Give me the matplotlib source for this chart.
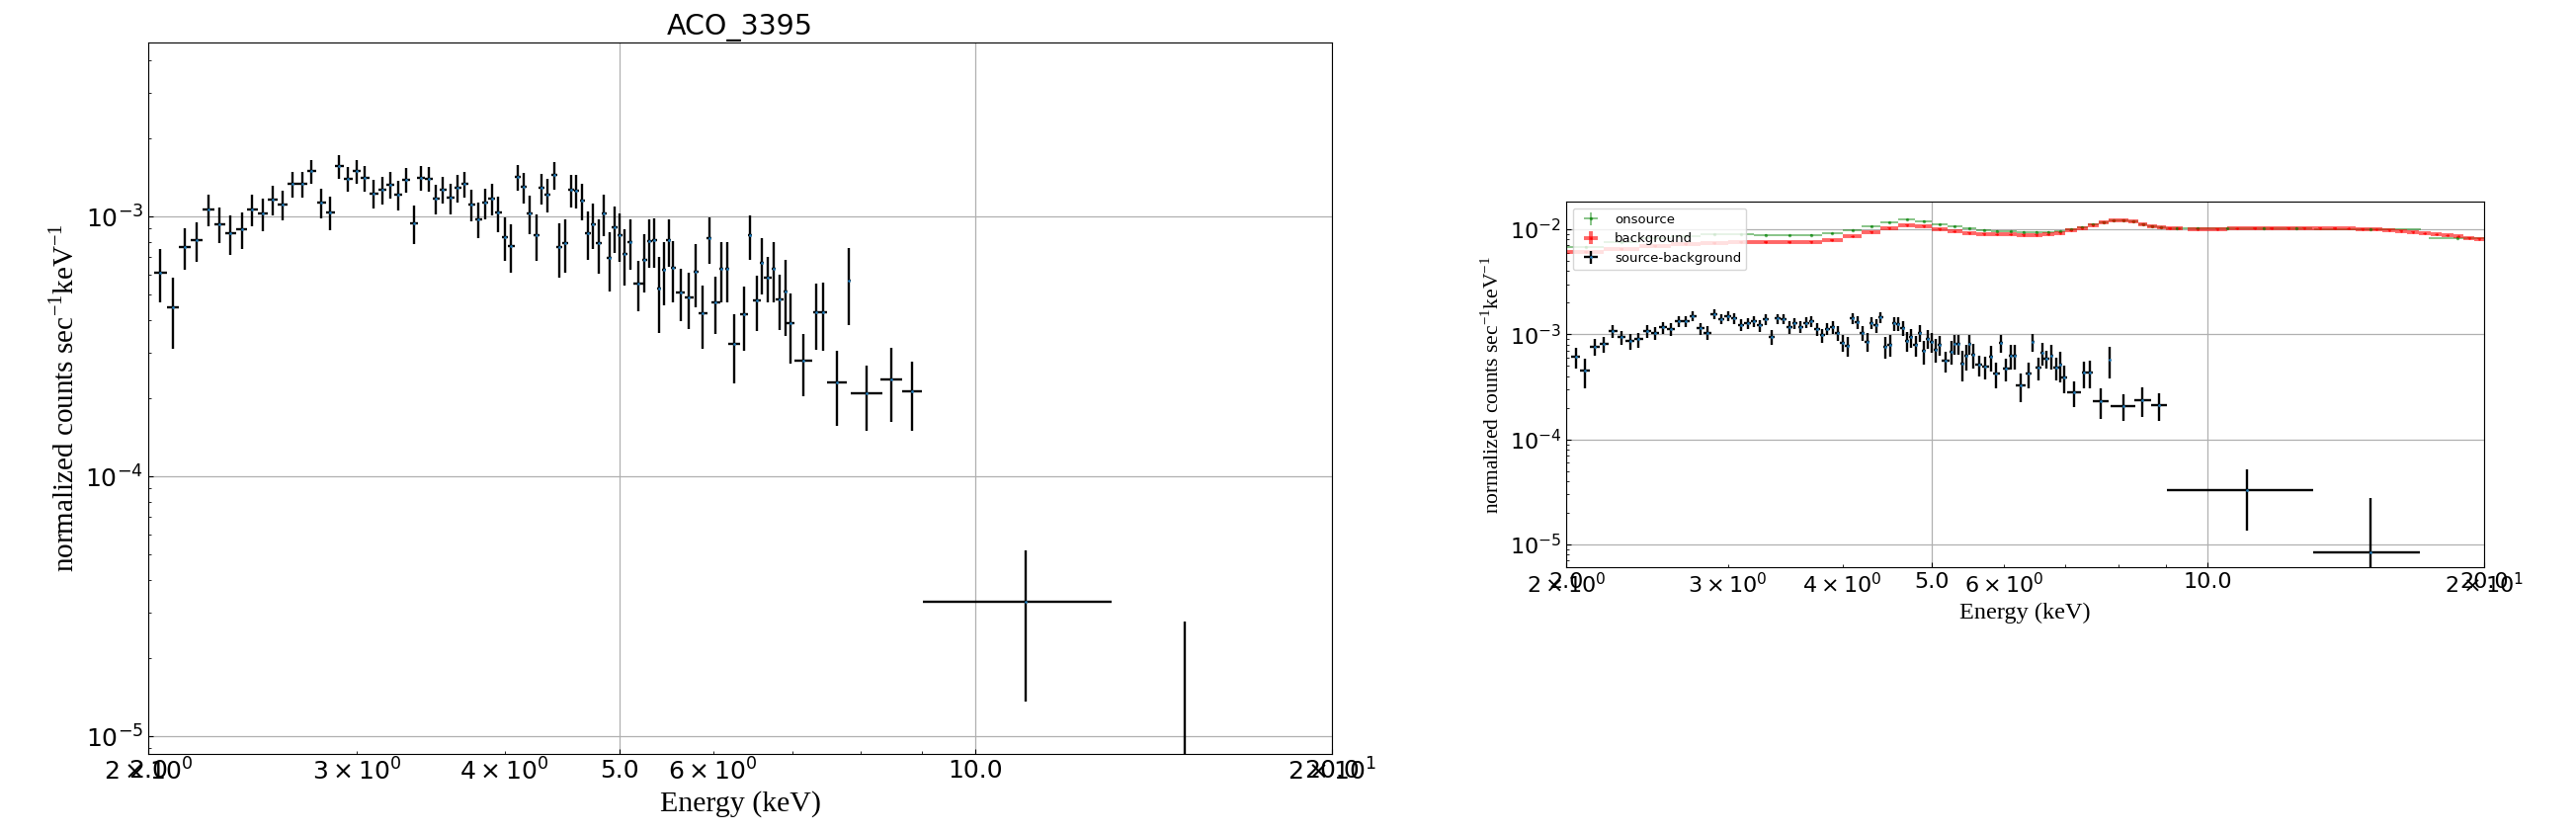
import matplotlib
matplotlib.use('Agg')
import matplotlib.pyplot as plt
from matplotlib.ticker import FixedLocator, FixedFormatter
import numpy as np

plt.rcParams['font.family'] = ['DejaVu Sans']

# ---------------- data: source - background spectrum ----------------
energy = [2.048, 2.098, 2.149, 2.199, 2.249, 2.298, 2.347, 2.399, 2.449, 2.500,
          2.550, 2.599, 2.650, 2.699, 2.748, 2.802, 2.851, 2.900, 2.951, 3.001,
          3.049, 3.102, 3.152, 3.201, 3.251, 3.301, 3.352, 3.400, 3.451, 3.502,
          3.549, 3.602, 3.651, 3.702, 3.753, 3.803, 3.852, 3.902, 3.952, 4.001,
          4.052, 4.102, 4.152, 4.203, 4.254, 4.301, 4.351, 4.404, 4.452, 4.504,
          4.553, 4.600, 4.653, 4.704, 4.752, 4.804, 4.854, 4.904, 4.954, 5.006,
          5.054, 5.106, 5.185, 5.252, 5.303, 5.354, 5.402, 5.454, 5.503, 5.553,
          5.631, 5.726, 5.804, 5.882, 5.954, 6.031, 6.101, 6.164, 6.255, 6.377,
          6.451, 6.534, 6.601, 6.678, 6.755, 6.833, 6.913, 6.979, 7.156, 7.337,
          7.436, 7.639, 7.817, 8.092, 8.492, 8.841, 11.03, 15.03]
energy_halfwidth = [0.025] * 62 + [0.05] + [0.025] * 7 + [
    0.05, 0.05, 0.025, 0.05, 0.025, 0.05, 0.025, 0.025, 0.075, 0.05,
    0.025, 0.05, 0.025, 0.05, 0.025, 0.05, 0.025, 0.05, 0.125, 0.05,
    0.05, 0.15, 0.025, 0.25, 0.175, 0.175, 2.0, 2.0]
# normalized counts (units of 1e-3 counts/s/keV)
net_counts = [0.609, 0.447, 0.765, 0.810, 1.066, 0.935, 0.862, 0.895, 1.070, 1.027,
              1.164, 1.114, 1.335, 1.335, 1.496, 1.134, 1.039, 1.563, 1.403, 1.496,
              1.411, 1.227, 1.270, 1.327, 1.216, 1.387, 0.943, 1.411, 1.399, 1.174,
              1.270, 1.181, 1.289, 1.335, 1.114, 0.977, 1.130, 1.174, 1.036, 0.835,
              0.771, 1.419, 1.300, 1.030, 0.849, 1.289, 1.216, 1.449, 0.763, 0.792,
              1.267, 1.259, 1.154, 0.864, 0.935, 0.789, 1.027, 0.694, 0.908, 0.849,
              0.719, 0.799, 0.555, 0.684, 0.806, 0.810, 0.528, 0.627, 0.810, 0.636,
              0.513, 0.489, 0.614, 0.425, 0.827, 0.470, 0.631, 0.631, 0.324, 0.422,
              0.849, 0.478, 0.665, 0.584, 0.631, 0.482, 0.514, 0.390, 0.279, 0.430,
              0.430, 0.230, 0.568, 0.209, 0.237, 0.213, 0.0329, 0.0084]
net_err = [0.140, 0.138, 0.141, 0.142, 0.145, 0.147, 0.148, 0.144, 0.149, 0.150,
           0.154, 0.150, 0.156, 0.154, 0.157, 0.151, 0.153, 0.159, 0.156, 0.157,
           0.158, 0.154, 0.157, 0.158, 0.157, 0.154, 0.156, 0.155, 0.156, 0.157,
           0.147, 0.157, 0.153, 0.154, 0.157, 0.152, 0.153, 0.160, 0.162, 0.159,
           0.164, 0.162, 0.172, 0.172, 0.174, 0.176, 0.181, 0.179, 0.178, 0.184,
           0.186, 0.184, 0.186, 0.182, 0.187, 0.184, 0.185, 0.177, 0.184, 0.180,
           0.178, 0.174, 0.122, 0.174, 0.172, 0.172, 0.170, 0.172, 0.169, 0.167,
           0.117, 0.118, 0.168, 0.116, 0.166, 0.116, 0.165, 0.165, 0.096, 0.116,
           0.165, 0.116, 0.164, 0.117, 0.165, 0.117, 0.166, 0.118, 0.076, 0.123,
           0.126, 0.074, 0.187, 0.059, 0.075, 0.063, 0.0193, 0.0193]

# ---------------- data: onsource and background spectra ----------------
onsource_energy = [2.1, 2.3, 2.5, 2.7, 2.9, 3.1, 3.3, 3.5, 3.7, 3.9,
                   4.1, 4.3, 4.5, 4.7, 4.9, 5.1, 5.3, 5.5, 5.7, 5.9,
                   6.1, 6.3, 6.5, 6.7, 6.9, 7.1, 7.3, 7.5, 7.7, 7.9,
                   8.1, 8.3, 8.5, 8.7, 8.9, 9.25, 9.75, 10.5, 11.5, 12.5,
                   15.05, 18.7]
onsource_halfwidth = [0.1] * 35 + [0.25, 0.25, 0.5, 0.5, 0.5, 2.0, 1.3]
onsource_counts = [6.8, 7.5, 8.2, 8.6, 8.9, 8.9, 8.8, 8.7, 8.8, 9.1,
                   9.7, 10.6, 11.6, 12.3, 11.9, 11.1, 10.6, 10.1, 9.8, 9.6,
                   9.5, 9.4, 9.4, 9.4, 9.5, 9.9, 10.5, 11.1, 11.7, 12.1,
                   12.2, 11.8, 11.2, 10.7, 10.4, 10.2, 10.1, 10.1, 10.2, 10.3,
                   10.0, 8.3]
onsource_err = [0.12] * 42

background_energy = [2.1, 2.3, 2.5, 2.7, 2.9, 3.1, 3.3, 3.5, 3.7, 3.9,
                     4.1, 4.3, 4.5, 4.7, 4.9, 5.1, 5.3, 5.5, 5.7, 5.9,
                     6.1, 6.3, 6.5, 6.7, 6.9, 7.1, 7.3, 7.5, 7.7, 7.9,
                     8.1, 8.3, 8.5, 8.7, 8.9, 9.1, 9.3, 9.75, 10.25, 10.75,
                     11.25, 11.75, 12.25, 12.75, 13.25, 13.75, 14.25, 14.75, 15.25, 15.75,
                     16.25, 16.75, 17.25, 17.75, 18.25, 18.75, 19.25, 19.75]
background_halfwidth = [0.1] * 37 + [0.25] * 21
background_counts = [6.1, 6.5, 6.9, 7.2, 7.4, 7.5, 7.5, 7.5, 7.6, 7.9,
                     8.5, 9.4, 10.3, 10.9, 10.7, 10.0, 9.5, 9.2, 9.0, 8.9,
                     8.9, 8.85, 8.8, 8.9, 9.2, 9.7, 10.3, 11.0, 11.7, 12.1,
                     12.2, 11.8, 11.2, 10.7, 10.4, 10.2, 10.1, 10.0, 10.0, 10.1,
                     10.2, 10.2, 10.3, 10.3, 10.3, 10.2, 10.1, 10.0, 9.9, 9.8,
                     9.6, 9.4, 9.1, 8.9, 8.7, 8.5, 8.3, 8.1]
background_err = [0.12] * 58

# ---------------- ticks ----------------
major_ticks = [2.0, 5.0, 10.0, 20.0]
major_labels = ['2.0', '5.0', '10.0', '20.0']
minor_ticks = [2, 3, 4, 6, 7, 8, 9, 20]
minor_labels = [r'$\mathdefault{2\times10^{0}}$', r'$\mathdefault{3\times10^{0}}$',
                r'$\mathdefault{4\times10^{0}}$', r'$\mathdefault{6\times10^{0}}$',
                '', '', '', r'$\mathdefault{2\times10^{1}}$']

scale = 1e-3
E = np.array(energy)
dE = np.array(energy_halfwidth)
C = np.array(net_counts) * scale
dC = np.array(net_err) * scale

serif = 'Liberation Serif'
ylabel_text = r'normalized counts sec$^{\mathdefault{-1}}$keV$^{\mathdefault{-1}}$'


def style(ax, tick_size):
    ax.set_xscale('log')
    ax.set_yscale('log')
    ax.set_xlim(2, 20)
    ax.xaxis.set_major_locator(FixedLocator(major_ticks))
    ax.xaxis.set_major_formatter(FixedFormatter(major_labels))
    ax.xaxis.set_minor_locator(FixedLocator(minor_ticks))
    ax.xaxis.set_minor_formatter(FixedFormatter(minor_labels))
    ax.xaxis.remove_overlapping_locs = False
    ax.tick_params(which='both', direction='in', labelsize=tick_size)
    ax.grid(True, which='major', color='#b0b0b0', lw=0.9)
    ax.set_axisbelow(True)


fig = plt.figure(figsize=(26.07, 8.42), dpi=100)
ax1 = fig.add_axes([0.05754, 0.09382, 0.45953, 0.85511])
ax2 = fig.add_axes([0.60798, 0.31829, 0.35635, 0.43943])

# left panel
ax1.errorbar(E, C, xerr=dE, yerr=dC, fmt='.', ms=2, color='C0',
             ecolor='k', elinewidth=1.7)
style(ax1, 18)
ax1.set_ylim(8.56e-6, 4.68e-3)
ax1.set_title('ACO_3395', fontsize=20.5)
ax1.set_xlabel('Energy (keV)', fontsize=21.5, family=serif)
ax1.set_ylabel(ylabel_text, fontsize=21, family=serif)

# right panel
ax2.errorbar(onsource_energy, np.array(onsource_counts) * scale,
             xerr=onsource_halfwidth, yerr=np.array(onsource_err) * scale,
             fmt='.', ms=3, color='g', alpha=0.5, elinewidth=1.3,
             label='onsource')
ax2.errorbar(background_energy, np.array(background_counts) * scale,
             xerr=background_halfwidth, yerr=np.array(background_err) * scale,
             fmt='.', ms=2, color='r', alpha=0.6, elinewidth=2.8,
             label='background')
ax2.errorbar(E, C, xerr=dE, yerr=dC, fmt='.', ms=2, color='C0',
             ecolor='k', elinewidth=1.7, label='source-background')
style(ax2, 16)
ax2.set_ylim(6.08e-6, 1.83e-2)
ax2.set_xlabel('Energy (keV)', fontsize=17.5, family=serif)
ax2.set_ylabel(ylabel_text, fontsize=15.5, family=serif)
ax2.legend(loc='upper left', fontsize=9.5)

fig.savefig('out.png', dpi=100)
